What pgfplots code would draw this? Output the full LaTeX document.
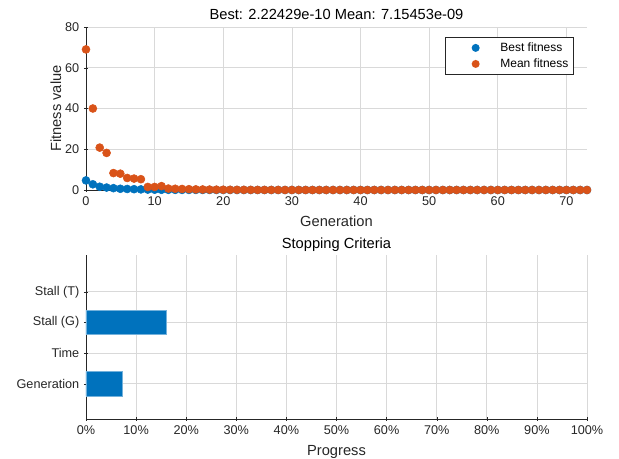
\documentclass[border=0pt]{standalone}
\usepackage{fontspec}
\setmainfont{Liberation Sans}
\usepackage{pgfplots}
\pgfplotsset{compat=1.18}

\definecolor{mblue}{rgb}{0,0.447,0.741}
\definecolor{morange}{rgb}{0.85,0.325,0.098}
\definecolor{axgray}{rgb}{0.15,0.15,0.15}

\pgfplotsset{
  mstyle/.style={
    scale only axis,
    width=375.75pt,
    /pgf/number format/assume math mode=true,
    axis line style={axgray},
    tick style={axgray},
    tick align=inside,
    major tick length=3pt,
    ticklabel style={font=\fontsize{9.5}{11}\selectfont, text=axgray},
    label style={font=\fontsize{11}{13}\selectfont, text=axgray},
    title style={font=\fontsize{11}{13}\selectfont},
    grid style={gray!30, line width=0.5pt},
  },
  dotlegend/.style={legend image code/.code={
    \path[draw=none, fill=none] (0pt,0pt) -- (37.5pt,0pt);
    \path[draw=none, fill=#1] (21pt,0pt) circle (3pt);}},
}

\begin{document}
\begin{tikzpicture}
\path[use as bounding box] (0,0) rectangle (464.25pt,344.25pt);

% upper panel: fitness per generation
\begin{axis}[
  mstyle,
  at={(64.5pt,201.75pt)}, anchor=south west,
  height=122.25pt,
  xmin=0, xmax=73, ymin=0, ymax=80,
  xtick={0,10,...,70}, ytick={0,20,...,80},
  axis x line=bottom, axis y line=left,
  axis line style={-},
  grid=major,
  clip=false,
  xlabel={Generation}, ylabel={Fitness value},
  xlabel style={yshift=-1pt},
  ylabel style={yshift=-4pt},
  title={Best: 2.22429e-10 Mean: 7.15453e-09},
  title style={yshift=-4pt},
  legend style={at={(0.974,0.939)}, anchor=north east, draw=axgray,
    font=\fontsize{9}{10}\selectfont, cells={anchor=west},
    inner xsep=2pt, inner ysep=2pt},
]
\addplot[only marks, mark=*, mark size=3pt, color=mblue, dotlegend=mblue] coordinates {
(0,4.7) (1,2.8) (2,1.6) (3,1.2) (4,0.9) (5,0.6) (6,0.5) (7,0.4) (8,0.3) (9,0.2)
(10,0.15) (11,0.1) (12,0.08) (13,0.06) (14,0.05) (15,0.04) (16,0.03) (17,0.02) (18,0.02) (19,0.01)
(20,0.01) (21,0.01) (22,0) (23,0) (24,0) (25,0) (26,0) (27,0) (28,0) (29,0)
(30,0) (31,0) (32,0) (33,0) (34,0) (35,0) (36,0) (37,0) (38,0) (39,0)
(40,0) (41,0) (42,0) (43,0) (44,0) (45,0) (46,0) (47,0) (48,0) (49,0)
(50,0) (51,0) (52,0) (53,0) (54,0) (55,0) (56,0) (57,0) (58,0) (59,0)
(60,0) (61,0) (62,0) (63,0) (64,0) (65,0) (66,0) (67,0) (68,0) (69,0)
(70,0) (71,0) (72,0) (73,0)
};
\addlegendentry{Best fitness}
\addplot[only marks, mark=*, mark size=3pt, color=morange, dotlegend=morange] coordinates {
(0,69) (1,40) (2,20.8) (3,18.2) (4,8.3) (5,8.0) (6,5.9) (7,5.6) (8,5.3) (9,1.5)
(10,1.5) (11,1.9) (12,0.7) (13,0.6) (14,0.5) (15,0.4) (16,0.3) (17,0.25) (18,0.2) (19,0.15)
(20,0.12) (21,0.1) (22,0.08) (23,0.06) (24,0.05) (25,0.04) (26,0.03) (27,0.02) (28,0.02) (29,0.01)
(30,0.01) (31,0.01) (32,0) (33,0) (34,0) (35,0) (36,0) (37,0) (38,0) (39,0)
(40,0) (41,0) (42,0) (43,0) (44,0) (45,0) (46,0) (47,0) (48,0) (49,0)
(50,0) (51,0) (52,0) (53,0) (54,0) (55,0) (56,0) (57,0) (58,0) (59,0)
(60,0) (61,0) (62,0) (63,0) (64,0) (65,0) (66,0) (67,0) (68,0) (69,0)
(70,0) (71,0) (72,0) (73,0)
};
\addlegendentry{Mean fitness}
\end{axis}

% lower panel: stopping criteria
\begin{axis}[
  mstyle,
  at={(64.5pt,30pt)}, anchor=south west,
  height=123pt,
  xbar, bar width=0.8,
  bar shift=0pt,
  xmin=0, xmax=100, ymin=-0.15, ymax=5.2,
  xtick={0,10,...,100},
  xticklabel={\pgfmathprintnumber{\tick}\%},
  ytick={1,2,3,4},
  yticklabels={Generation,Time,Stall (G),Stall (T)},
  axis x line=bottom, axis y line=left,
  axis line style={-},
  grid=major,
  xlabel={Progress},
  xlabel style={yshift=-1pt},
  title={Stopping Criteria},
  title style={yshift=-7pt},
]
% Time and Stall (T) are at 0 and draw nothing
\addplot[fill=mblue, draw=mblue!55!white, line width=0.6pt] coordinates {
(7.3,1) (16,3)
};
\end{axis}
\end{tikzpicture}
\end{document}
